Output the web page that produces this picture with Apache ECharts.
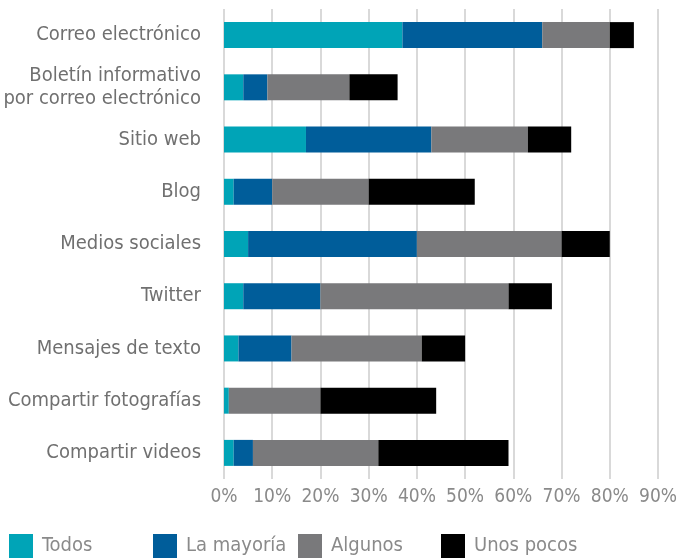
<!DOCTYPE html>
<html>
<head>
<meta charset="utf-8">
<script src="https://cdn.jsdelivr.net/npm/echarts@6/dist/echarts.min.js"></script>
<style>
html,body{margin:0;padding:0;background:#fff;}
#chart{width:680px;height:559px;}
</style>
</head>
<body>
<div id="chart"></div>
<script>
const categories = [
  'Correo electrónico',
  'Boletín informativo\npor correo electrónico',
  'Sitio web',
  'Blog',
  'Medios sociales',
  'Twitter',
  'Mensajes de texto',
  'Compartir fotografías',
  'Compartir videos'
];
const todos      = [37, 4, 17, 2, 5, 4, 3, 1, 2];
const mayoria    = [29, 5, 26, 8, 35, 16, 11, 0, 4];
const algunos    = [14, 17, 20, 20, 30, 39, 27, 19, 26];
const unosPocos  = [5, 10, 9, 22, 10, 9, 9, 24, 27];
const seriesNames = ['Todos', 'La mayoría', 'Algunos', 'Unos pocos'];
const tickValues = [0, 10, 20, 30, 40, 50, 60, 70, 80, 90];

const colors = ['#00A4B7', '#005D9A', '#79797B', '#000000'];
const FONT = "'Liberation Sans Narrow', 'DejaVu Sans Condensed', 'Roboto Condensed', 'Liberation Sans', sans-serif";

const chart = echarts.init(document.getElementById('chart'), null, {renderer: 'canvas'});
const values = [todos, mayoria, algunos, unosPocos];
const legendLefts = [9, 153, 298, 441];

chart.setOption({
  animation: false,
  color: colors,
  grid: {left: 224, right: 22, top: 9, bottom: 80, containLabel: false, outerBoundsMode: 'none'},
  legend: seriesNames.map((n, i) => ({
    data: [n],
    left: legendLefts[i],
    top: 534,
    padding: 0,
    itemWidth: 24,
    itemHeight: 24,
    icon: 'rect',
    selectedMode: false,
    textStyle: {fontFamily: FONT, fontSize: 20, color: '#8a8a8a', padding: [0, 0, 0, 4]}
  })),
  xAxis: {
    type: 'value',
    min: tickValues[0],
    max: tickValues[tickValues.length - 1],
    interval: 10,
    axisLine: {show: false},
    axisTick: {show: false},
    splitLine: {show: true, lineStyle: {color: '#cccccc', width: 1.5}},
    axisLabel: {
      formatter: v => v + '%',
      fontFamily: FONT, fontSize: 19, color: '#8a8a8a', margin: 9
    }
  },
  yAxis: {
    type: 'category',
    inverse: true,
    data: categories,
    axisLine: {show: false},
    axisTick: {show: false},
    axisLabel: {
      fontFamily: FONT, fontSize: 20, color: '#707070', margin: 23, lineHeight: 23, align: 'right'
    }
  },
  series: seriesNames.map((n, i) => ({
    name: n,
    type: 'bar',
    stack: 'total',
    barWidth: 26,
    data: values[i],
    itemStyle: {color: colors[i]}
  }))
});
</script>
</body>
</html>
